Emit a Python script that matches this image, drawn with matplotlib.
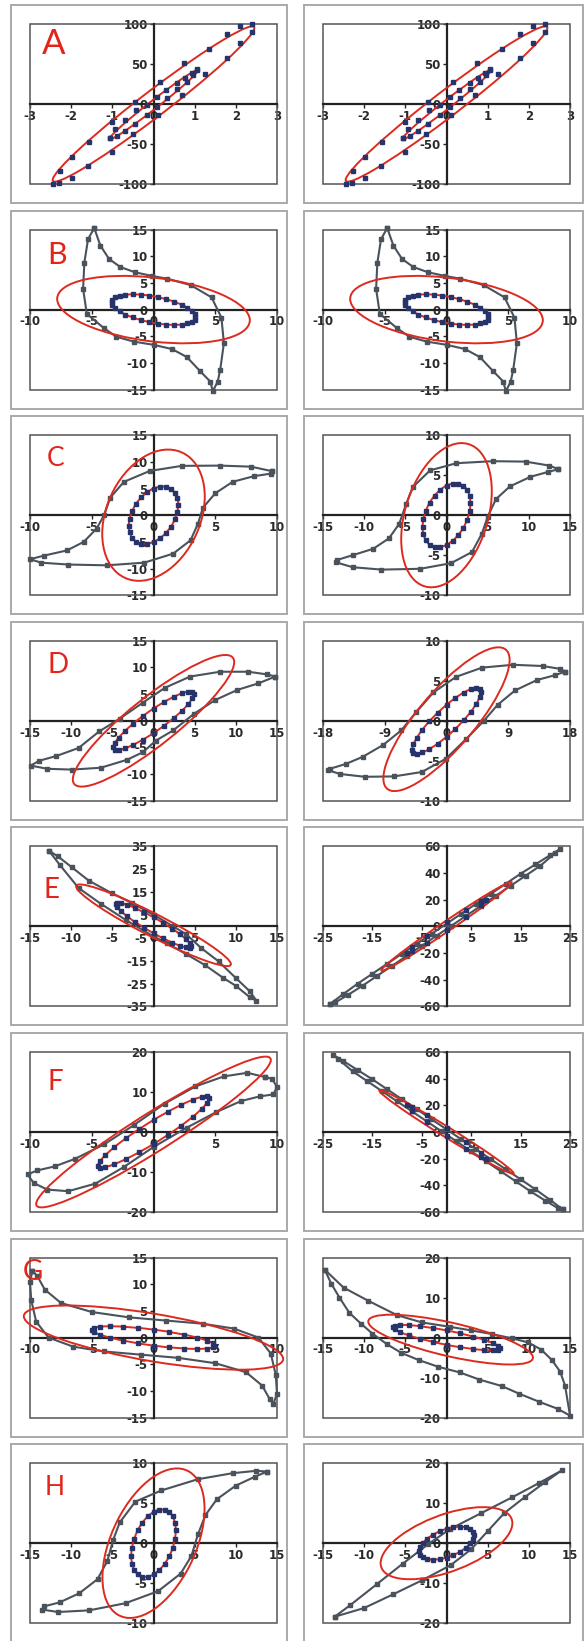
import matplotlib.pyplot as plt
from matplotlib.patches import Circle, Rectangle
from matplotlib.transforms import Affine2D

plt.rcParams['axes.unicode_minus'] = False
plt.rcParams['font.family'] = 'DejaVu Sans'
plt.rcParams['font.weight'] = 'bold'

RED = '#dc2a1f'
GREY = '#4a525c'
NAVY = '#26346b'

# ---- data ----
# ellipses: (centre x, centre y, x of right-most point, y offset of that point, half height at centre)

# A (same left and right)
a_outer_x = [-2.45, -2.27, -1.99, -1.56, -1.0, -0.45, 0.16, 0.73, 1.34, 1.78, 2.1, 2.4,
             2.4, 2.1, 1.78, 1.26, 0.69, 0.1, -0.49, -1.01, -1.58, -1.99, -2.3]
a_outer_y = [-100, -84, -66, -47, -22, 2, 28, 51, 69, 87, 97, 100,
             90, 76, 58, 37, 11, -14, -38, -60, -78, -92, -99]
a_inner_x = [-1.05, -0.93, -0.69, -0.42, -0.16, 0.08, 0.3, 0.57, 0.77, 0.93, 1.05,
             1.05, 0.95, 0.81, 0.57, 0.32, 0.08, -0.16, -0.45, -0.69, -0.89, -1.05]
a_inner_y = [-42, -31, -20, -8, -1, 9, 17, 26, 33, 39, 44,
             42, 36, 28, 19, 7, -4, -14, -25, -34, -40, -43]
a_ell_outer = [0, 0, 2.45, 95, 20]
a_ell_inner = [0, -1, 1.08, 43, 6.5]

# B (same left and right)
b_loop_x = [-4.8, -5.3, -5.6, -5.7, -5.4, -4.0, -3.0, -1.6, 0.0, 1.5, 2.7, 3.8, 4.6, 4.8,
            5.2, 5.4, 5.7, 5.5, 4.7, 3.0, 1.1, -0.1, -1.5, -2.7, -3.6, -4.3, -4.8]
b_loop_y = [15.3, 13.2, 8.8, 3.9, -0.8, -3.5, -5.1, -6.0, -6.6, -7.4, -8.9, -11.6, -13.5, -15.3,
            -13.5, -11.3, -6.3, -1.5, 2.3, 4.6, 5.8, 6.3, 7.0, 8.0, 9.5, 12.0, 15.3]
b_inner_x = [3.4, 3.33, 3.11, 2.75, 2.27, 1.7, 1.05, 0.36, -0.36, -1.05, -1.7, -2.27, -2.75, -3.11, -3.33,
             -3.4, -3.33, -3.11, -2.75, -2.27, -1.7, -1.05, -0.36, 0.36, 1.05, 1.7, 2.27, 2.75, 3.11, 3.33]
b_inner_y = [-1.4, -0.85, -0.26, 0.34, 0.92, 1.47, 1.95, 2.34, 2.64, 2.81, 2.87, 2.8, 2.6, 2.3, 1.89,
             1.4, 0.85, 0.26, -0.34, -0.92, -1.47, -1.95, -2.34, -2.64, -2.81, -2.87, -2.8, -2.6, -2.3, -1.89]
b_ell_outer = [0, 0, 7.8, -2.0, 6.0]
b_ell_inner = [0, 0, 3.4, -1.4, 2.5]

# C left
c1_loop_x = [9.6, 7.9, 5.4, 2.3, -0.3, -2.4, -3.5, -4.0, -4.6, -5.65, -7.0, -8.9, -10.0,
             -9.1, -6.9, -3.8, -0.75, 1.6, 3.0, 3.6, 4.0, 5.0, 6.4, 8.1, 9.5, 9.6]
c1_loop_y = [8.25, 9.1, 9.3, 9.25, 8.3, 6.25, 3.3, 0.0, -2.5, -5.0, -6.6, -7.6, -8.25,
             -8.9, -9.25, -9.4, -8.9, -7.2, -4.7, -1.6, 1.4, 4.1, 6.25, 7.3, 7.8, 8.25]
c1_inner_x = [2.0, 1.93, 1.73, 1.41, 1.0, 0.52, 0, -0.52, -1.0, -1.41, -1.73, -1.93,
              -2.0, -1.93, -1.73, -1.41, -1.0, -0.52, 0, 0.52, 1.0, 1.41, 1.73, 1.93]
c1_inner_y = [2.0, 3.23, 4.23, 4.95, 5.33, 5.35, 5.0, 4.31, 3.33, 2.13, 0.77, -0.63,
              -2.0, -3.23, -4.23, -4.95, -5.33, -5.35, -5.0, -4.31, -3.33, -2.13, -0.77, 0.63]
c1_ell_outer = [0, 0, 4.15, 3.5, 11.8]
c1_ell_inner = [0, 0, 2.0, 2.0, 5.0]

# C right
c2_loop_x = [13.6, 12.5, 9.6, 5.6, 1.2, -2.0, -4.1, -4.9, -5.75, -7.0, -8.9, -11.4, -13.3,
             -13.4, -11.4, -7.9, -3.2, 0.55, 3.1, 4.3, 5.0, 6.0, 7.7, 10.2, 12.3, 13.6]
c2_loop_y = [5.75, 6.2, 6.7, 6.75, 6.5, 5.6, 3.5, 1.4, -1.1, -2.9, -4.2, -5.0, -5.6,
             -5.9, -6.5, -6.8, -6.7, -6.0, -4.6, -2.3, -0.2, 2.0, 3.6, 4.8, 5.4, 5.75]
c2_inner_x = [2.9, 2.8, 2.51, 2.05, 1.45, 0.75, 0, -0.75, -1.45, -2.05, -2.51, -2.8,
              -2.9, -2.8, -2.51, -2.05, -1.45, -0.75, 0, 0.75, 1.45, 2.05, 2.51, 2.8]
c2_inner_y = [1.5, 2.41, 3.15, 3.68, 3.95, 3.96, 3.7, 3.18, 2.45, 1.56, 0.55, -0.49,
              -1.5, -2.41, -3.15, -3.68, -3.95, -3.96, -3.7, -3.18, -2.45, -1.56, -0.55, 0.49]
c2_ell_outer = [0, 0, 5.5, 3.0, 8.5]
c2_ell_inner = [0, 0, 2.9, 1.5, 3.7]

# D left
d1_loop_x = [14.8, 13.8, 11.5, 8.1, 4.45, 1.4, -1.3, -4.1, -6.6, -9.1, -11.8, -13.9, -14.9,
             -12.9, -9.9, -6.4, -3.2, -1.3, 0.3, 2.4, 4.95, 7.5, 10.2, 12.7, 14.8]
d1_loop_y = [8.3, 8.7, 9.2, 9.2, 8.3, 6.2, 3.4, 0.4, -2.0, -5.1, -6.6, -7.5, -8.4,
             -9.0, -9.15, -8.8, -7.3, -5.9, -3.7, -1.8, 1.35, 3.9, 5.8, 7.0, 8.3]
d1_inner_x = [4.9, 4.73, 4.24, 3.46, 2.45, 1.27, 0, -1.27, -2.45, -3.46, -4.24, -4.73,
              -4.9, -4.73, -4.24, -3.46, -2.45, -1.27, 0, 1.27, 2.45, 3.46, 4.24, 4.73]
d1_inner_y = [5.0, 5.43, 5.48, 5.17, 4.49, 3.51, 2.3, 0.93, -0.51, -1.91, -3.18, -4.23,
              -5.0, -5.43, -5.48, -5.17, -4.49, -3.51, -2.3, -0.93, 0.51, 1.91, 3.18, 4.23]
d1_ell_outer = [0, 0, 9.8, 11.0, 5.6]
d1_ell_inner = [0, 0, 4.9, 5.0, 2.3]

# D right
d2_loop_x = [17.3, 16.5, 14.0, 9.7, 5.2, 1.4, -1.9, -4.4, -6.6, -9.2, -12.2, -14.7, -17.0,
             -17.2, -15.5, -11.9, -7.65, -3.6, -0.1, 2.9, 5.4, 7.45, 10.0, 13.2, 15.8, 17.3]
d2_loop_y = [6.15, 6.5, 6.85, 7.0, 6.65, 5.5, 3.55, 1.1, -1.2, -3.0, -4.5, -5.4, -6.0,
             -6.2, -6.65, -7.0, -6.95, -6.4, -4.75, -2.25, -0.05, 2.0, 3.8, 5.1, 5.7, 6.15]
d2_inner_x = [5.0, 4.83, 4.33, 3.54, 2.5, 1.29, 0, -1.29, -2.5, -3.54, -4.33, -4.83,
              -5.0, -4.83, -4.33, -3.54, -2.5, -1.29, 0, 1.29, 2.5, 3.54, 4.33, 4.83]
d2_inner_y = [3.6, 4.0, 4.12, 3.96, 3.53, 2.86, 2.0, 1.0, -0.07, -1.14, -2.12, -2.96,
              -3.6, -4.0, -4.12, -3.96, -3.53, -2.86, -2.0, -1.0, 0.07, 1.14, 2.12, 2.96]
d2_ell_outer = [0, 0.2, 9.2, 7.4, 5.1]
d2_ell_inner = [0, 0, 5.0, 3.6, 2.0]

# E left
e1_loop_x = [-12.7, -11.6, -9.9, -7.85, -5.1, -2.6, 0.0, 2.4, 4.0, 5.8, 7.9, 10.0, 11.7, 12.5,
             11.7, 10.0, 8.5, 6.2, 3.9, 1.6, 0.0, -3.4, -6.4, -9.1, -11.4, -12.7]
e1_loop_y = [33.1, 30.6, 25.8, 20.0, 14.6, 10.2, 5.1, 0.0, -3.5, -9.5, -15.3, -22.6, -28.4, -32.5,
             -31.0, -26.0, -22.6, -16.8, -12.0, -7.3, -4.4, 2.9, 9.9, 16.8, 27.0, 33.1]
e1_inner_x = [4.6, 4.44, 3.98, 3.25, 2.3, 1.19, 0, -1.19, -2.3, -3.25, -3.98, -4.44,
              -4.6, -4.44, -3.98, -3.25, -2.3, -1.19, 0, 1.19, 2.3, 3.25, 3.98, 4.44]
e1_inner_y = [-8.7, -7.48, -5.72, -3.53, -1.07, 1.5, 4.0, 6.26, 8.13, 9.47, 10.22, 10.3,
              9.7, 8.48, 6.72, 4.53, 2.07, -0.5, -3.0, -5.26, -7.13, -8.47, -9.22, -9.3]
e1_ell_outer = [0, 0.5, 9.4, -17.0, 5.5]
e1_ell_inner = [0, 0.5, 4.6, -9.2, 3.5]

# E right
e2_loop_x = [-23.5, -21, -18, -15, -12, -9, -6, -3, 0, 3, 6, 9, 12, 15, 18, 21, 23,
             22, 19, 16, 13, 10, 7, 4, 1, -2, -5, -8, -11, -14, -17, -20, -22.5, -23.5]
e2_loop_y = [-58, -51, -43, -35.5, -28, -20.5, -13, -5.5, 2, 9.5, 17, 24.5, 32, 39.5, 46.5, 53.5, 58,
             55, 45.5, 38, 30.5, 23, 15.5, 8, 0.5, -7, -14.5, -22, -29.5, -37, -44.5, -51.5, -57, -58]
e2_inner_x = [8, 6.93, 4, 0, -4, -6.93, -8, -6.93, -4, 0, 4, 6.93]
e2_inner_y = [20, 18.8, 12.6, 3, -7.4, -15.8, -20, -18.8, -12.6, -3, 7.4, 15.8]
e2_ell_outer = [0, 0, 13.2, 33, 4.5]

# F left
f1_loop_x = [9.0, 7.6, 5.7, 3.4, 0.9, -1.6, -4.0, -6.35, -8.0, -9.4, -10.2, -9.7, -8.6,
             -6.9, -4.7, -2.4, 0.0, 2.7, 5.1, 7.1, 8.6, 9.7, 10.0, 9.6, 9.0]
f1_loop_y = [13.75, 14.8, 13.9, 11.4, 7.1, 1.7, -3.1, -6.7, -8.6, -9.6, -10.6, -12.75, -14.4,
             -14.8, -12.9, -8.75, -3.75, 1.1, 5.0, 7.75, 8.9, 9.4, 11.25, 13.3, 13.75]
f1_inner_x = [4.5, 4.35, 3.9, 3.18, 2.25, 1.16, 0, -1.16, -2.25, -3.18, -3.9, -4.35,
              -4.5, -4.35, -3.9, -3.18, -2.25, -1.16, 0, 1.16, 2.25, 3.18, 3.9, 4.35]
f1_inner_y = [8.4, 8.89, 8.77, 8.06, 6.8, 5.07, 3.0, 0.73, -1.6, -3.82, -5.77, -7.33,
              -8.4, -8.89, -8.77, -8.06, -6.8, -5.07, -3.0, -0.73, 1.6, 3.82, 5.77, 7.33]
f1_ell_outer = [0, 0, 9.5, 18.0, 5.6]
f1_ell_inner = [0, 0, 4.5, 8.4, 3.0]

# F right
f2_loop_x = [23.5, 21, 18, 15, 12, 9, 6, 3, 0, -3, -6, -9, -12, -15, -18, -21, -23,
             -22, -19, -16, -13, -10, -7, -4, -1, 2, 5, 8, 11, 14, 17, 20, 22.5, 23.5]
f2_loop_y = [-58, -51, -43, -35.5, -28, -20.5, -13, -5.5, 2, 9.5, 17, 24.5, 32, 39.5, 46.5, 53.5, 58,
             55, 45.5, 38, 30.5, 23, 15.5, 8, 0.5, -7, -14.5, -22, -29.5, -37, -44.5, -51.5, -57, -58]
f2_inner_x = [-8, -6.93, -4, 0, 4, 6.93, 8, 6.93, 4, 0, -4, -6.93]
f2_inner_y = [20, 18.8, 12.6, 3, -7.4, -15.8, -20, -18.8, -12.6, -3, 7.4, 15.8]
f2_ell_outer = [0, 0, 13.6, -31, 4.5]

# G left
g1_loop_x = [-9.8, -10.0, -9.9, -9.5, -8.5, -6.5, -4.0, -1.0, 2.0, 5.0, 7.5, 8.8, 9.4, 9.7,
             10.0, 9.9, 9.5, 8.5, 6.5, 4.0, 1.0, -2.0, -5.0, -7.5, -8.8, -9.4, -9.8]
g1_loop_y = [12.5, 10.5, 7.0, 3.0, 0.0, -1.7, -2.6, -3.2, -3.8, -4.8, -6.5, -9.0, -11.5, -12.5,
             -10.5, -7.0, -3.0, 0.0, 1.7, 2.6, 3.2, 3.8, 4.8, 6.5, 9.0, 11.5, 12.5]
g1_inner_x = [5, 4.83, 4.33, 3.54, 2.5, 1.29, 0, -1.29, -2.5, -3.54, -4.33, -4.83,
              -5, -4.83, -4.33, -3.54, -2.5, -1.29, 0, 1.29, 2.5, 3.54, 4.33, 4.83]
g1_inner_y = [-1.5, -1.06, -0.55, 0, 0.55, 1.06, 1.5, 1.84, 2.05, 2.12, 2.05, 1.84,
              1.5, 1.06, 0.55, 0, -0.55, -1.06, -1.5, -1.84, -2.05, -2.12, -2.05, -1.84]
g1_ell_outer = [0, 0, 10.5, -4.0, 4.5]
g1_ell_inner = [0, 0, 5.0, -1.5, 1.5]

# G right
g2_loop_x = [-14.8, -12.5, -9.5, -6.0, -3.0, 0.4, 3.0, 5.5, 8.0, 9.9, 11.5, 12.8, 13.8, 14.4, 15.0,
             13.5, 11.2, 8.8, 6.7, 4.0, 1.6, -1.0, -3.4, -5.5, -7.2, -9.0, -10.4, -11.8, -13.0, -14.0, -14.8]
g2_loop_y = [17, 12.5, 9.2, 5.6, 3.8, 2.7, 1.8, 0.9, -0.2, -1.2, -3.0, -5.6, -8.5, -12.0, -19.5,
             -17.8, -16.0, -14.0, -12.1, -10.5, -8.7, -7.3, -5.6, -3.8, -1.7, 1.0, 3.5, 6.2, 10.0, 13.5, 17]
g2_inner_x = [6.5, 6.28, 5.63, 4.6, 3.25, 1.68, 0, -1.68, -3.25, -4.6, -5.63, -6.28,
              -6.5, -6.28, -5.63, -4.6, -3.25, -1.68, 0, 1.68, 3.25, 4.6, 5.63, 6.28]
g2_inner_y = [-2.6, -2.04, -1.35, -0.57, 0.26, 1.07, 1.8, 2.41, 2.86, 3.11, 3.15, 2.98,
              2.6, 2.04, 1.35, 0.57, -0.26, -1.07, -1.8, -2.41, -2.86, -3.11, -3.15, -2.98]
g2_ell_outer = [0.5, -0.5, 10.0, -4.5, 4.3]
g2_ell_inner = [0, 0, 6.5, -2.6, 1.8]

# H left
h1_loop_x = [13.8, 12.5, 9.6, 5.4, 0.97, -2.2, -4.1, -4.9, -5.6, -6.8, -9.0, -11.4, -13.3,
             -13.5, -11.6, -7.85, -3.4, 0.55, 3.3, 4.6, 5.4, 6.3, 7.7, 10.0, 12.3, 13.8]
h1_loop_y = [8.96, 9.05, 8.75, 8.0, 6.6, 5.2, 2.6, 0.4, -2.2, -4.5, -6.25, -7.4, -7.9,
             -8.3, -8.6, -8.4, -7.5, -6.0, -3.8, -1.6, 1.1, 3.5, 5.5, 7.2, 8.3, 8.96]
h1_inner_x = [2.7, 2.61, 2.34, 1.91, 1.35, 0.7, 0, -0.7, -1.35, -1.91, -2.34, -2.61,
              -2.7, -2.61, -2.34, -1.91, -1.35, -0.7, 0, 0.7, 1.35, 1.91, 2.34, 2.61]
h1_inner_y = [1.6, 2.56, 3.34, 3.89, 4.18, 4.18, 3.9, 3.36, 2.58, 1.63, 0.56, -0.54,
              -1.6, -2.56, -3.34, -3.89, -4.18, -4.18, -3.9, -3.36, -2.58, -1.63, -0.56, 0.54]
h1_ell_outer = [0, 0, 6.2, 4.3, 8.3]
h1_ell_inner = [0, 0, 2.7, 1.6, 3.9]

# H right
h2_loop_x = [-13.6, -11.7, -8.5, -5.3, -2.2, 0.4, 4.2, 8.0, 11.2, 14.0,
             12.0, 9.5, 7.0, 5.0, 3.0, 0.5, -3.0, -6.5, -10.0, -13.6]
h2_loop_y = [-18.4, -15.5, -10.3, -5.1, -0.2, 3.5, 7.5, 11.5, 15.0, 18.2,
             15.3, 11.5, 7.5, 3.0, -1.5, -5.5, -9.3, -12.8, -16.2, -18.4]
h2_inner_x = [3.3, 3.19, 2.86, 2.33, 1.65, 0.85, 0, -0.85, -1.65, -2.33, -2.86, -3.19,
              -3.3, -3.19, -2.86, -2.33, -1.65, -0.85, 0, 0.85, 1.65, 2.33, 2.86, 3.19]
h2_inner_y = [2.0, 2.86, 3.53, 3.96, 4.12, 4.0, 3.6, 2.96, 2.12, 1.14, 0.07, -1.0,
              -2.0, -2.86, -3.53, -3.96, -4.12, -4.0, -3.6, -2.96, -2.12, -1.14, -0.07, 1.0]
h2_ell_outer = [0, 0, 8.0, 5.0, 7.5]
h2_ell_inner = [0, 0, 3.3, 2.0, 3.6]

# axis ticks
ticks_a_x = [-3, -2, -1, 0, 1, 2, 3]
ticks_a_y = [-100, -50, 0, 50, 100]
ticks_10 = [-10, -5, 0, 5, 10]
ticks_15 = [-15, -10, -5, 0, 5, 10, 15]
ticks_18 = [-18, -9, 0, 9, 18]
ticks_20 = [-20, -10, 0, 10, 20]
ticks_25 = [-25, -15, -5, 5, 15, 25]
ticks_35 = [-35, -25, -15, -5, 5, 15, 25, 35]
ticks_60 = [-60, -40, -20, 0, 20, 40, 60]

letters = ['A', 'B', 'C', 'D', 'E', 'F', 'G', 'H']

# (row, col, xticks, yticks, loop, marker sets, ellipses)
panels = []
for col in (0, 1):
    panels.append((0, col, ticks_a_x, ticks_a_y, None,
                   [(a_outer_x, a_outer_y), (a_inner_x, a_inner_y)], [a_ell_outer, a_ell_inner]))
    panels.append((1, col, ticks_10, ticks_15, (b_loop_x, b_loop_y),
                   [(b_inner_x, b_inner_y)], [b_ell_outer, b_ell_inner]))
panels += [
    (2, 0, ticks_10, ticks_15, (c1_loop_x, c1_loop_y), [(c1_inner_x, c1_inner_y)], [c1_ell_outer, c1_ell_inner]),
    (2, 1, ticks_15, ticks_10, (c2_loop_x, c2_loop_y), [(c2_inner_x, c2_inner_y)], [c2_ell_outer, c2_ell_inner]),
    (3, 0, ticks_15, ticks_15, (d1_loop_x, d1_loop_y), [(d1_inner_x, d1_inner_y)], [d1_ell_outer, d1_ell_inner]),
    (3, 1, ticks_18, ticks_10, (d2_loop_x, d2_loop_y), [(d2_inner_x, d2_inner_y)], [d2_ell_outer, d2_ell_inner]),
    (4, 0, ticks_15, ticks_35, (e1_loop_x, e1_loop_y), [(e1_inner_x, e1_inner_y)], [e1_ell_outer, e1_ell_inner]),
    (4, 1, ticks_25, ticks_60, (e2_loop_x, e2_loop_y), [(e2_inner_x, e2_inner_y)], [e2_ell_outer]),
    (5, 0, ticks_10, ticks_20, (f1_loop_x, f1_loop_y), [(f1_inner_x, f1_inner_y)], [f1_ell_outer, f1_ell_inner]),
    (5, 1, ticks_25, ticks_60, (f2_loop_x, f2_loop_y), [(f2_inner_x, f2_inner_y)], [f2_ell_outer]),
    (6, 0, ticks_10, ticks_15, (g1_loop_x, g1_loop_y), [(g1_inner_x, g1_inner_y)], [g1_ell_outer, g1_ell_inner]),
    (6, 1, ticks_15, ticks_20, (g2_loop_x, g2_loop_y), [(g2_inner_x, g2_inner_y)], [g2_ell_outer, g2_ell_inner]),
    (7, 0, ticks_15, ticks_10, (h1_loop_x, h1_loop_y), [(h1_inner_x, h1_inner_y)], [h1_ell_outer, h1_ell_inner]),
    (7, 1, ticks_15, ticks_20, (h2_loop_x, h2_loop_y), [(h2_inner_x, h2_inner_y)], [h2_ell_outer, h2_ell_inner]),
]

# letter placement in pixels (left, top, size)
letter_pos = {'A': (42, 28, 25), 'B': (47, 241, 22), 'C': (47, 446, 19), 'D': (47, 652, 20),
              'E': (43, 877, 20), 'F': (47, 1069, 20), 'G': (23, 1259, 20), 'H': (45, 1475, 19)}

W, H = 588, 1641
fig = plt.figure(figsize=(W / 100, H / 100), dpi=100)
fig.patch.set_facecolor('white')

for row, col, xt, yt, loop, dot_sets, ells in panels:
    top = 24 + 205.6 * row
    left = 30 if col == 0 else 323
    # outer grey frame of the panel
    fx, fw = (11, 276) if col == 0 else (304, 279)
    fig.add_artist(Rectangle((fx / W, 1 - (top + 179) / H), fw / W, 198 / H,
                             transform=fig.transFigure, fill=False, ec='#a9a9a9', lw=1.4))

    ax = fig.add_axes([left / W, 1 - (top + 160) / H, 247 / W, 160 / H])
    ax.set_axisbelow(True)

    if loop is not None:
        ax.plot(loop[0], loop[1], color=GREY, lw=1.5, marker='s', ms=3.4,
                mfc=GREY, mec=GREY, clip_on=False, zorder=2)
    for cx, cy, ex, ey, hy in ells:
        tr = Affine2D.from_values(ex, ey, 0, hy, cx, cy) + ax.transData
        ax.add_patch(Circle((0, 0), 1, transform=tr, fill=False, ec=RED, lw=1.4,
                            clip_on=False, zorder=3))
    for dx, dy in dot_sets:
        ax.plot(dx, dy, ls='none', marker='s', ms=3.0, color=NAVY, clip_on=False, zorder=4)

    ax.set_xlim(xt[0], xt[-1])
    ax.set_ylim(yt[0], yt[-1])
    ax.set_xticks(xt)
    ax.set_yticks(yt)
    for s in ('top', 'right'):
        ax.spines[s].set_visible(False)
    for s in ('left', 'bottom'):
        ax.spines[s].set_position(('data', 0))
        ax.spines[s].set_color('#222222')
        ax.spines[s].set_linewidth(1.6)
        ax.spines[s].set_zorder(1)
    ax.add_patch(Rectangle((0, 0), 1, 1, transform=ax.transAxes, fill=False,
                           ec='#555555', lw=1.1, clip_on=False, zorder=0.8))
    ax.tick_params(direction='out', length=3, width=1.0, color='#222222',
                   labelcolor='#2a2a2a', labelsize=8.5, pad=1.2)

    if col == 0:
        lt = letters[row]
        lx, ly, ls = letter_pos[lt]
        fig.text(lx / W, 1 - ly / H, lt, color='#e3241b', fontsize=ls, fontfamily='Lato',
                 fontweight='normal', va='top', ha='left')

fig.savefig('out.png', dpi=100, facecolor='white')
